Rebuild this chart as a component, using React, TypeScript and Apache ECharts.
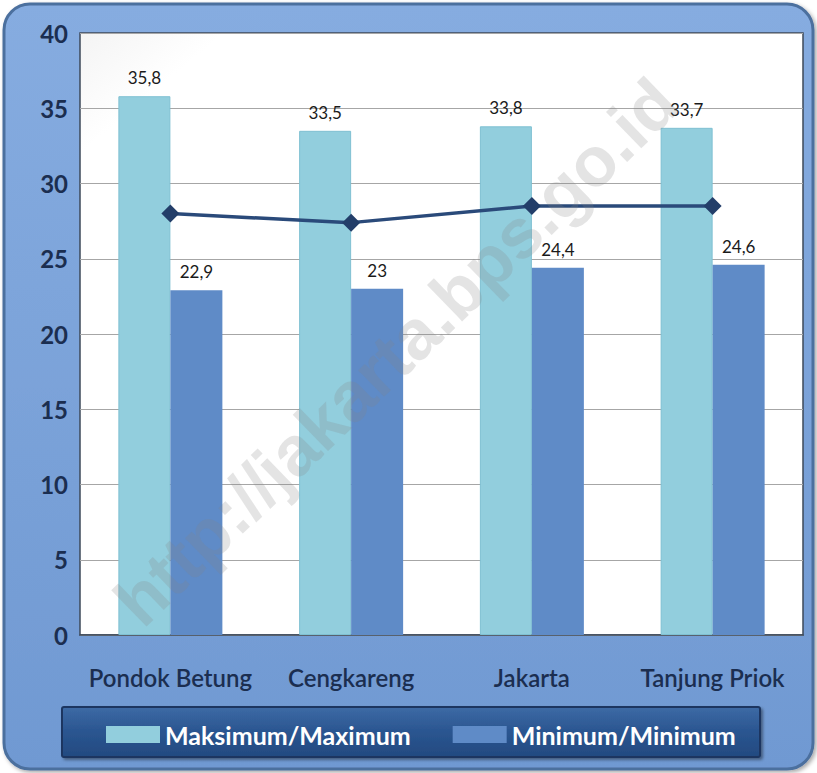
import React, { useEffect, useRef } from "react";
import * as echarts from "echarts";

const categories = ["Pondok Betung", "Cengkareng", "Jakarta", "Tanjung Priok"];
const maxValues = [35.8, 33.5, 33.8, 33.7];
const minValues = [22.9, 23, 24.4, 24.6];
const avgValues = [28.0, 27.4, 28.5, 28.5];
const seriesNames = ["Maksimum/Maximum", "Minimum/Minimum", "Rata-rata/Average"];
const yTicks = { min: 0, max: 40, interval: 5 };
const watermark = "http://jakarta.bps.go.id";

const fmt = (v: number) => String(v).replace(".", ",");

export default function App() {
  const ref = useRef<HTMLDivElement>(null);
  useEffect(() => {
    document.body.style.margin = "0";
    const chart = echarts.init(ref.current!, null, { renderer: "svg" });
    const labelFont = "Lato, 'Open Sans', sans-serif";
    chart.setOption({
      animation: false,
      backgroundColor: "#ffffff",
      graphic: [
        {
          type: "rect",
          z: -10,
          shape: { x: 4, y: 4, width: 809, height: 765, r: 26 },
          style: {
            fill: new echarts.graphic.LinearGradient(0, 0, 0, 1, [
              { offset: 0, color: "#86ACE0" },
              { offset: 1, color: "#7099D2" },
            ]),
            stroke: "#4C6F9E",
            lineWidth: 3,
            shadowBlur: 4,
            shadowColor: "rgba(0,0,0,0.35)",
            shadowOffsetX: 2,
            shadowOffsetY: 2,
          },
        },
        {
          type: "rect",
          z: -9,
          shape: { x: 62, y: 707, width: 698, height: 50, r: 2 },
          style: {
            fill: new echarts.graphic.LinearGradient(0, 0, 0, 1, [
              { offset: 0, color: "#3D6AA5" },
              { offset: 0.5, color: "#2A5590" },
              { offset: 1, color: "#234A80" },
            ]),
            stroke: "#1A3560",
            lineWidth: 2,
            shadowBlur: 3,
            shadowColor: "rgba(0,0,0,0.4)",
            shadowOffsetX: 2,
            shadowOffsetY: 2,
          },
        },
        {
          type: "text",
          z: 100,
          x: 396,
          y: 352,
          rotation: (44 * Math.PI) / 180,
          style: {
            text: watermark,
            font: "bold 70px 'Liberation Sans', Arial, sans-serif",
            fill: "rgba(130,130,130,0.22)",
            align: "center",
            verticalAlign: "middle",
          },
        },
      ],
      grid: {
        left: 80,
        right: 14,
        top: 33,
        bottom: 138,
        show: true,
        backgroundColor: new echarts.graphic.LinearGradient(0, 0, 1, 1, [
          { offset: 0, color: "#F4F4F4" },
          { offset: 0.1, color: "#FFFFFF" },
          { offset: 1, color: "#FFFFFF" },
        ]),
        borderColor: "#3E4A5A",
        borderWidth: 1.5,
      },
      legend: {
        data: [seriesNames[0], seriesNames[1]],
        left: 101,
        top: 717,
        itemWidth: 54,
        itemHeight: 17,
        itemGap: 42,
        itemStyle: { borderWidth: 0 },
        icon: "rect",
        textStyle: {
          color: "#FFFFFF",
          fontSize: 25,
          fontWeight: "bold",
          fontFamily: labelFont,
        },
      },
      xAxis: {
        type: "category",
        data: categories,
        axisTick: { show: false },
        axisLine: { show: true, lineStyle: { color: "#3E4A5A", width: 1.5 } },
        axisLabel: {
          interval: 0,
          color: "#1B2E50",
          fontSize: 24,
          fontWeight: 600,
          fontFamily: labelFont,
          margin: 30,
        },
      },
      yAxis: {
        type: "value",
        min: yTicks.min,
        max: yTicks.max,
        interval: yTicks.interval,
        axisLine: { show: false },
        axisTick: { show: false },
        splitLine: { lineStyle: { color: "#A6A6A6", width: 1 } },
        axisLabel: {
          color: "#1B2E50",
          fontSize: 24,
          fontWeight: "bold",
          fontFamily: labelFont,
          margin: 12,
        },
      },
      series: [
        {
          name: seriesNames[0],
          type: "bar",
          data: maxValues,
          barWidth: 52,
          barGap: "0%",
          itemStyle: { color: "#92CEDD", borderColor: "#7FC0D2", borderWidth: 1 },
          label: {
            show: true,
            position: "top",
            distance: 10,
            formatter: (p: any) => fmt(p.value),
            color: "#1A1A1A",
            fontSize: 17,
            fontFamily: labelFont,
          },
        },
        {
          name: seriesNames[1],
          type: "bar",
          data: minValues,
          barWidth: 52,
          itemStyle: { color: "#5F8BC7" },
          label: {
            show: true,
            position: "top",
            distance: 10,
            formatter: (p: any) => fmt(p.value),
            color: "#1A1A1A",
            fontSize: 17,
            fontFamily: labelFont,
          },
        },
        {
          name: seriesNames[2],
          type: "line",
          data: avgValues,
          symbol: "diamond",
          symbolSize: 18,
          lineStyle: { color: "#2A4A7A", width: 3.5 },
          itemStyle: { color: "#233E69" },
          z: 5,
        },
      ],
    });
    return () => chart.dispose();
  }, []);
  return (
    <div
      ref={ref}
      style={{ position: "fixed", left: 0, top: 0, width: 817, height: 773 }}
    />
  );
}
